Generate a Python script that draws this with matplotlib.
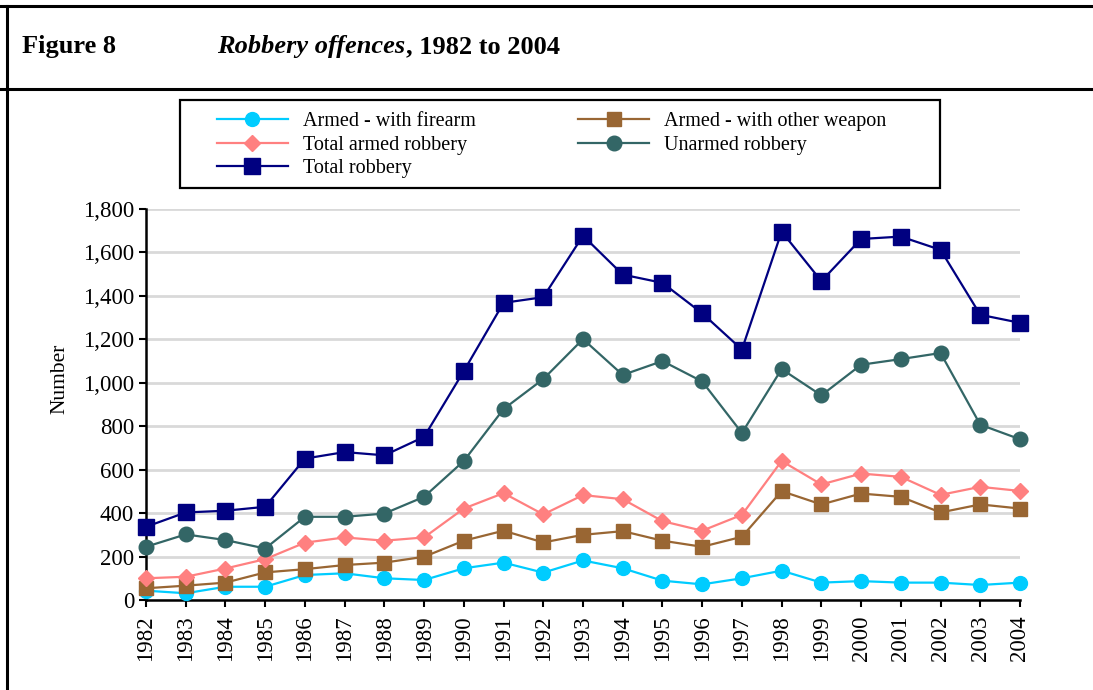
"""Figure 8: Robbery offences, 1982 to 2004."""

import matplotlib

matplotlib.use("Agg")
import matplotlib.pyplot as plt
from matplotlib.lines import Line2D
from matplotlib.patches import Rectangle
from matplotlib.ticker import FuncFormatter

years = list(range(1982, 2005))
firearm = [43, 31, 61, 61, 115, 123, 100, 92, 146, 172, 126, 182, 146, 89, 72, 100,
           135, 80, 87, 80, 80, 69, 80]
other_weapon = [54, 66, 80, 127, 142, 161, 172, 199, 273, 319, 265, 300, 317, 273, 245, 291,
                501, 440, 490, 475, 403, 440, 421]
total_armed = [100, 107, 145, 188, 264, 288, 273, 288, 421, 492, 394, 483, 464, 363, 319, 392,
               640, 532, 582, 567, 484, 521, 502]
unarmed = [245, 302, 276, 237, 383, 383, 398, 475, 640, 879, 1017, 1201, 1036, 1100, 1006, 769,
           1063, 942, 1083, 1109, 1137, 807, 740]
total_robbery = [337, 403, 411, 429, 651, 681, 666, 751, 1054, 1368, 1394, 1677, 1498, 1460,
                 1320, 1153, 1696, 1468, 1662, 1673, 1612, 1313, 1276]

plt.rcParams["font.family"] = ["Liberation Serif", "DejaVu Serif"]

W, H = 1093, 690
fig = plt.figure(figsize=(W / 100, H / 100), dpi=100)
ax = fig.add_axes([146 / W, 1 - 600 / H, 874 / W, 391 / H])

series = [
    ("Armed - with firearm", firearm, "#00CCFF", "o", 10),
    ("Armed - with other weapon", other_weapon, "#996633", "s", 9.5),
    ("Total armed robbery", total_armed, "#FF8080", "D", 8.5),
    ("Unarmed robbery", unarmed, "#336666", "o", 10.5),
    ("Total robbery", total_robbery, "#000080", "s", 11.5),
]
handles = []
for label, values, color, marker, size in series:
    (h,) = ax.plot(years, values, color=color, marker=marker, markersize=size,
                   linewidth=1.6, label=label, clip_on=False, zorder=3)
    handles.append(h)

ax.set_xlim(1982, 2004)
ax.set_ylim(0, 1800)
ax.set_yticks(range(0, 1801, 200))
ax.yaxis.set_major_formatter(FuncFormatter(lambda v, _: f"{int(v):,}"))
ax.set_xticks(years)
ax.set_xticklabels([str(y) for y in years], rotation=90)
ax.tick_params(axis="both", labelsize=16.5, direction="out", length=5, width=1.5)
ax.tick_params(axis="x", pad=6)
ax.grid(axis="y", color="#D9D9D9", linewidth=2)
ax.set_axisbelow(True)
for side in ("top", "right"):
    ax.spines[side].set_visible(False)
for side in ("left", "bottom"):
    ax.spines[side].set_linewidth(1.8)
ax.set_ylabel("Number", fontsize=15.5)
ax.yaxis.set_label_coords(-0.088, 0.565)

# legend frame drawn separately, entries placed row by row in two columns
fig.add_artist(Rectangle((180 / W, 1 - 188 / H), 760 / W, 88 / H, transform=fig.transFigure,
                         fill=False, edgecolor="black", linewidth=1.6))
order = [0, 2, 4, 1, 3]
leg = fig.legend([handles[i] for i in order], [series[i][0] for i in order],
                 ncol=2, loc="upper left", bbox_to_anchor=(203 / W, 1 - 98 / H),
                 fontsize=14.5, frameon=False, handlelength=3.5, handletextpad=0.75,
                 labelspacing=0.22, borderpad=0.2, columnspacing=5.1)

# title
fig.text(0.020, 0.932, "Figure 8", fontsize=19, fontweight="bold", va="center")
t1 = fig.text(0.199, 0.932, "Robbery offences", fontsize=19, fontweight="bold",
              style="italic", va="center")
fig.canvas.draw()
bb = t1.get_window_extent()
fig.text(bb.x1 / fig.bbox.width, 0.932, ", 1982 to 2004", fontsize=19,
         fontweight="bold", va="center")

# frame lines
for coords in (([0.0, 1.0], [0.992, 0.992]), ([0.0, 1.0], [0.871, 0.871]),
               ([0.0064, 0.0064], [0.0, 0.992])):
    fig.add_artist(Line2D(coords[0], coords[1], color="black", linewidth=2.2))

fig.savefig("out.png", dpi=100)
plt.close(fig)
